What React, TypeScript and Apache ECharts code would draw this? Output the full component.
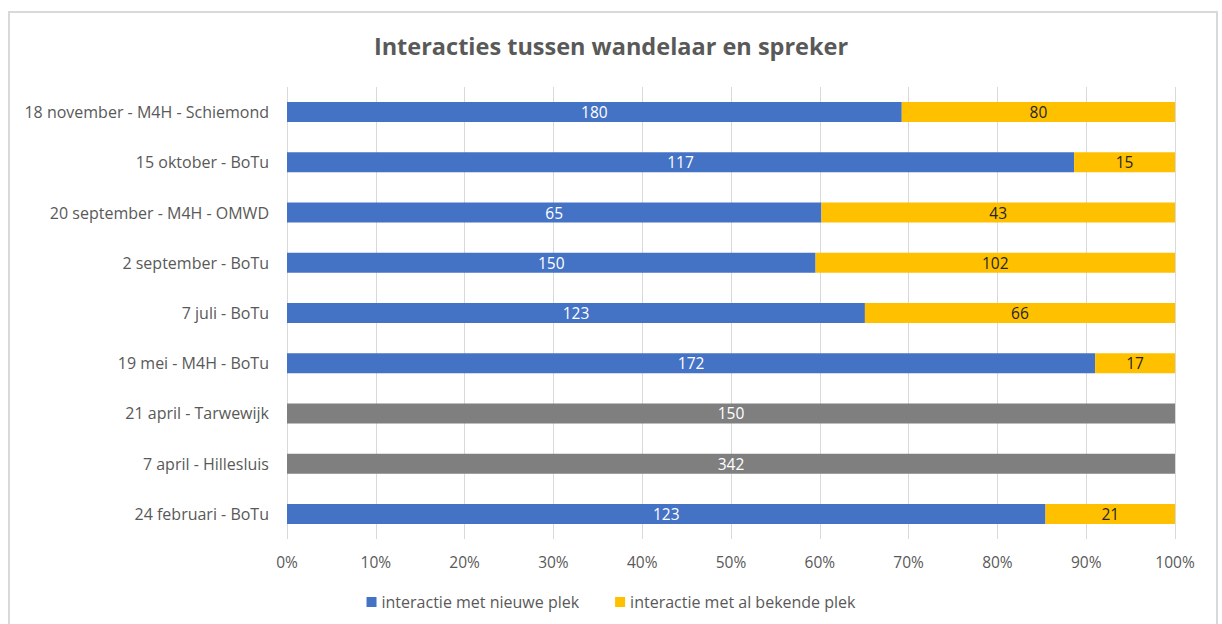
import React, { useEffect, useRef } from "react";
import * as echarts from "echarts";

const categories = [
  "24 februari - BoTu",
  "7 april - Hillesluis",
  "21 april - Tarwewijk",
  "19 mei - M4H - BoTu",
  "7 juli - BoTu",
  "2 september - BoTu",
  "20 september - M4H - OMWD",
  "15 oktober - BoTu",
  "18 november - M4H - Schiemond",
];
const nieuwePlek: (number | null)[] = [123, null, null, 172, 123, 150, 65, 117, 180];
const bekendePlek: (number | null)[] = [21, null, null, 17, 66, 102, 43, 15, 80];
const onbekend: (number | null)[] = [null, 342, 150, null, null, null, null, null, null];
const tickLabels = ["0%", "10%", "20%", "30%", "40%", "50%", "60%", "70%", "80%", "90%", "100%"];

const FONT = "'Open Sans', sans-serif";
const TEXT = "#595959";

export default function App() {
  const ref = useRef<HTMLDivElement>(null);
  useEffect(() => {
    if (!ref.current) return;
    const chart = echarts.init(ref.current, undefined, { renderer: "svg" });
    const totals = categories.map(
      (_, i) => (nieuwePlek[i] ?? 0) + (bekendePlek[i] ?? 0) + (onbekend[i] ?? 0)
    );
    const toPct = (arr: (number | null)[]) =>
      arr.map((v, i) => (v == null ? null : { value: (v / totals[i]) * 100, raw: v }));
    const mkSeries = (name: string, arr: (number | null)[], color: string, labelColor: string) => ({
      name,
      type: "bar",
      stack: "total",
      barWidth: 20,
      data: toPct(arr),
      itemStyle: { color },
      label: {
        show: true,
        position: "inside",
        color: labelColor,
        fontFamily: FONT,
        fontSize: 15.5,
        formatter: (p: any) => String(p.data.raw),
      },
    });
    chart.setOption({
      animation: false,
      textStyle: { fontFamily: FONT },
      title: {
        text: "Interacties tussen wandelaar en spreker",
        left: "center",
        top: 29,
        textStyle: { color: TEXT, fontSize: 23.5, fontWeight: "bold", fontFamily: FONT },
      },
      legend: {
        data: ["interactie met nieuwe plek", "interactie met al bekende plek"],
        bottom: 9,
        left: "center",
        itemWidth: 10,
        itemHeight: 10,
        itemGap: 36,
        icon: "rect",
        textStyle: { color: TEXT, fontSize: 16, fontFamily: FONT },
      },
      grid: { left: 287, right: 47, top: 87, bottom: 85 },
      xAxis: {
        type: "value",
        min: 0,
        max: 100,
        interval: 10,
        axisLine: { show: false },
        axisTick: { show: false },
        splitLine: { show: true, lineStyle: { color: "#d9d9d9", width: 1 } },
        axisLabel: {
          color: TEXT,
          fontSize: 15.5,
          fontFamily: FONT,
          margin: 15,
          formatter: (v: number) => tickLabels[Math.round(v / 10)],
        },
      },
      yAxis: {
        type: "category",
        data: categories,
        axisLine: { show: false },
        axisTick: { show: false },
        axisLabel: { color: TEXT, fontSize: 16, fontFamily: FONT, margin: 18 },
      },
      series: [
        mkSeries("interactie met nieuwe plek", nieuwePlek, "#4472c4", "#ffffff"),
        mkSeries("interactie met al bekende plek", bekendePlek, "#ffc000", "#262626"),
        mkSeries("onbekend", onbekend, "#7f7f7f", "#ffffff"),
      ],
      graphic: [
        {
          type: "rect",
          shape: { x: 9, y: 12, width: 1208, height: 700 },
          style: { fill: "none", stroke: "#d9d9d9", lineWidth: 2 },
          silent: true,
        },
      ],
    });
    return () => chart.dispose();
  }, []);
  return (
    <div
      ref={ref}
      style={{ position: "fixed", left: 0, top: 0, width: 1222, height: 624, background: "#fff" }}
    />
  );
}
